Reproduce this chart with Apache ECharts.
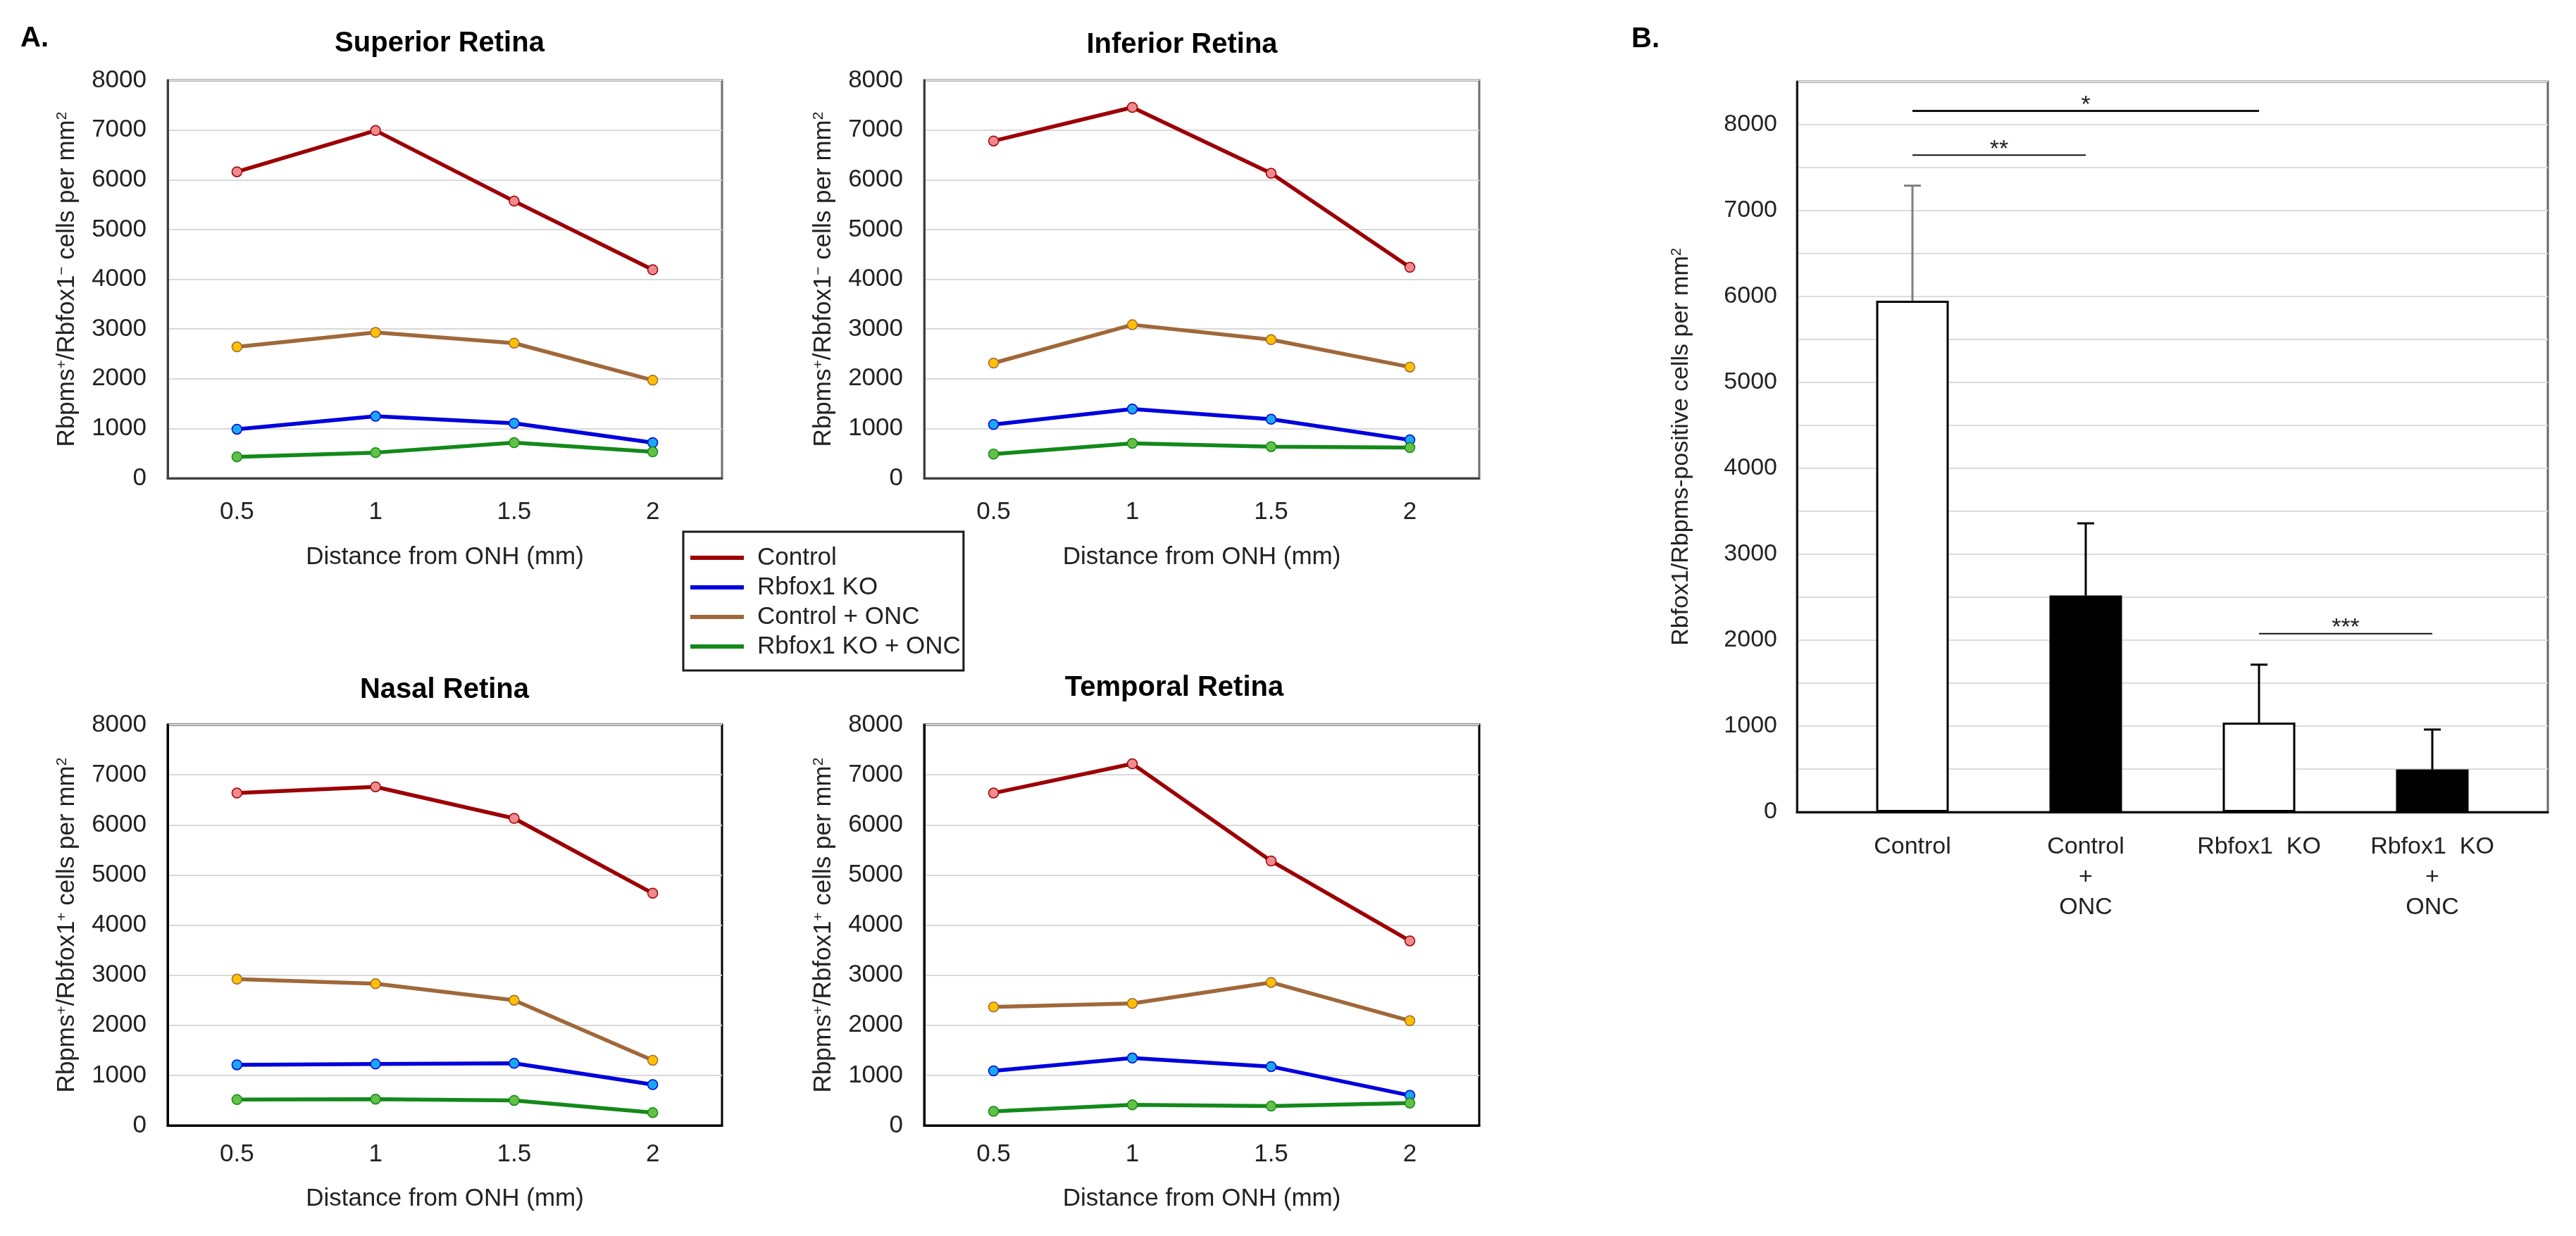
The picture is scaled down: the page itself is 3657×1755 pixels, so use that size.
<!DOCTYPE html>
<html><head><meta charset="utf-8">
<script src="https://cdn.jsdelivr.net/npm/echarts@6/dist/echarts.min.js"></script>
<style>html,body{margin:0;padding:0;background:#fff}#c{width:3657px;height:1755px}</style>
</head><body><div id="c"></div>
<script>
// ---- data ----
const distances = ['0.5', '1', '1.5', '2'];
const seriesNames = ['Control', 'Rbfox1 KO', 'Control + ONC', 'Rbfox1 KO + ONC'];

const superiorControl    = [6160, 6990, 5570, 4190];
const superiorKO         = [985, 1245, 1105, 715];
const superiorControlONC = [2640, 2930, 2715, 1970];
const superiorKOONC      = [430, 515, 715, 530];

const inferiorControl    = [6780, 7455, 6130, 4240];
const inferiorKO         = [1080, 1390, 1185, 770];
const inferiorControlONC = [2315, 3085, 2785, 2235];
const inferiorKOONC      = [485, 700, 635, 615];

const nasalControl       = [6635, 6760, 6130, 4635];
const nasalKO            = [1210, 1225, 1240, 815];
const nasalControlONC    = [2920, 2830, 2500, 1300];
const nasalKOONC         = [515, 525, 500, 255];

const temporalControl    = [6635, 7220, 5280, 3685];
const temporalKO         = [1090, 1345, 1175, 600];
const temporalControlONC = [2365, 2435, 2855, 2090];
const temporalKOONC      = [280, 410, 385, 445];

const panelTitles = ['Superior Retina', 'Inferior Retina', 'Nasal Retina', 'Temporal Retina'];
const yTickValues = [0, 1000, 2000, 3000, 4000, 5000, 6000, 7000, 8000];

const groupLabels = ['Control', 'Control\n+\nONC', 'Rbfox1  KO', 'Rbfox1  KO\n+\nONC'];
const groupMeans  = [5950, 2520, 1040, 495];
const groupUpper  = [7290, 3360, 1715, 960];

const sigFrom  = [0, 0, 2];
const sigTo    = [2, 1, 3];
const sigLevel = [8160, 7645, 2075];
const sigText  = ['*', '**', '***'];

// ---- styling / layout ----
const FONT = '"Liberation Sans", Arial, sans-serif';
const lineColors  = ['#9c0006', '#0000dc', '#a0683a', '#13891a'];
const pointColors = ['#f08a8c', '#1aa7ee', '#ffc000', '#62c145'];
const panelData = [
  [superiorControl, superiorKO, superiorControlONC, superiorKOONC],
  [inferiorControl, inferiorKO, inferiorControlONC, inferiorKOONC],
  [nasalControl, nasalKO, nasalControlONC, nasalKOONC],
  [temporalControl, temporalKO, temporalControlONC, temporalKOONC]
];
const panelGrids = [
  {left: 238, top: 114, width: 787, height: 565, border: '#6e6e6e', axis: '#404040', labelMargin: 31, nameGap: 95},
  {left: 1312, top: 114, width: 788, height: 565, border: '#6e6e6e', axis: '#404040', labelMargin: 31, nameGap: 95},
  {left: 238, top: 1029, width: 787, height: 569, border: '#000', axis: '#000', labelMargin: 24, nameGap: 87},
  {left: 1312, top: 1029, width: 788, height: 569, border: '#000', axis: '#000', labelMargin: 24, nameGap: 87}
];
const titlePos = [[624, 62], [1678, 64], [631, 980], [1667, 977]];
const yNames = [
  'Rbpms{sup|+}/Rbfox1{sup|\u2212} cells per mm{sup|2}',
  'Rbpms{sup|+}/Rbfox1{sup|\u2212} cells per mm{sup|2}',
  'Rbpms{sup|+}/Rbfox1{sup|+} cells per mm{sup|2}',
  'Rbpms{sup|+}/Rbfox1{sup|+} cells per mm{sup|2}'
];
const barFill = ['#ffffff', '#000000', '#ffffff', '#000000'];
const errColor = ['#7f7f7f', '#000000', '#000000', '#000000'];
const sigWidth = [3, 2, 2];

const grid = [], xAxis = [], yAxis = [], series = [];
const supRich = {sup: {fontSize: 21, fontFamily: FONT, color: '#222', verticalAlign: 'bottom', padding: [0, 0, 14, 0]}};
const plainNum = v => String(v);

panelGrids.forEach((g, i) => {
  grid.push({left: g.left, top: g.top, width: g.width, height: g.height, show: true,
    borderColor: g.border, borderWidth: 3, backgroundColor: '#fff'});
  xAxis.push({type: 'category', gridIndex: i, data: distances, boundaryGap: true,
    axisLine: {lineStyle: {color: g.axis, width: 3}}, axisTick: {show: false},
    axisLabel: {fontSize: 35, color: '#222', fontFamily: FONT, margin: g.labelMargin},
    name: 'Distance from ONH (mm)', nameLocation: 'middle', nameGap: g.nameGap,
    nameTextStyle: {fontSize: 35, color: '#222', fontFamily: FONT}});
  yAxis.push({type: 'value', gridIndex: i, min: yTickValues[0], max: yTickValues[yTickValues.length - 1], interval: 1000,
    axisLine: {show: true, lineStyle: {color: g.axis, width: 3}}, axisTick: {show: false},
    axisLabel: {fontSize: 35, color: '#222', fontFamily: FONT, margin: 30, formatter: plainNum},
    splitLine: {lineStyle: {color: '#d9d9d9', width: 2}},
    name: yNames[i], nameLocation: 'middle', nameGap: 125, nameRotate: 90,
    nameTextStyle: {fontSize: 35, color: '#222', fontFamily: FONT, rich: supRich}});
  panelData[i].forEach((vals, j) => {
    series.push({type: 'line', name: seriesNames[j], xAxisIndex: i, yAxisIndex: i, data: vals,
      symbol: 'circle', symbolSize: 14, z: 3 + (j === 0 ? 1 : 0),
      lineStyle: {color: lineColors[j], width: 5.5},
      itemStyle: {color: pointColors[j], borderColor: lineColors[j], borderWidth: 1.5}});
  });
});

// Panel B frame grid (index 4) and bar grid (index 5)
grid.push({left: 2551, top: 116, width: 1066, height: 1037, show: true, borderColor: '#666', borderWidth: 3, backgroundColor: '#fff'});
grid.push({left: 2592, top: 116, width: 984, height: 1037});
xAxis.push({type: 'value', gridIndex: 4, min: 0, max: 1, axisLine: {show: true, lineStyle: {color: '#000', width: 3}},
  axisTick: {show: false}, axisLabel: {show: false}, splitLine: {show: false}});
yAxis.push({type: 'value', gridIndex: 4, min: 0, max: 8500, interval: 500,
  axisLine: {show: true, lineStyle: {color: '#1a1a1a', width: 3}}, axisTick: {show: false},
  axisLabel: {fontSize: 34, color: '#222', fontFamily: FONT, margin: 28, formatter: v => (v % 1000 === 0 ? String(v) : '')},
  splitLine: {lineStyle: {color: '#dcdcdc', width: 2}},
  name: 'Rbfox1/Rbpms-positive cells per mm{sup|2}', nameLocation: 'middle', nameGap: 147, nameRotate: 90,
  nameTextStyle: {fontSize: 34, color: '#222', fontFamily: FONT, rich: {sup: {fontSize: 20, fontFamily: FONT, color: '#222', verticalAlign: 'bottom', padding: [0, 0, 14, 0]}}}});
xAxis.push({type: 'category', gridIndex: 5, data: groupLabels, axisLine: {show: false}, axisTick: {show: false},
  axisLabel: {fontSize: 34, color: '#222', fontFamily: FONT, margin: 28, lineHeight: 43}});
yAxis.push({type: 'value', gridIndex: 5, min: 0, max: 8500, show: false, splitLine: {show: false}});

series.push({type: 'bar', xAxisIndex: 5, yAxisIndex: 5, barWidth: 103, z: 3,
  data: groupMeans.map((m, i) => ({value: m, itemStyle: {color: barFill[i], borderColor: '#000', borderWidth: 3}}))});
series.push({type: 'custom', xAxisIndex: 5, yAxisIndex: 5, z: 4,
  data: groupMeans.map((m, i) => [i, m, groupUpper[i]]),
  renderItem: (params, api) => {
    const p0 = api.coord([api.value(0), api.value(1)]);
    const p1 = api.coord([api.value(0), api.value(2)]);
    const col = errColor[params.dataIndex];
    return {type: 'group', children: [
      {type: 'line', shape: {x1: p0[0], y1: p0[1], x2: p1[0], y2: p1[1]}, style: {stroke: col, lineWidth: 3}},
      {type: 'line', shape: {x1: p1[0] - 12, y1: p1[1], x2: p1[0] + 12, y2: p1[1]}, style: {stroke: col, lineWidth: 3}}
    ]};
  }});
series.push({type: 'custom', xAxisIndex: 5, yAxisIndex: 5, z: 5,
  data: sigFrom.map((f, i) => [f, sigTo[i], sigLevel[i]]),
  renderItem: (params, api) => {
    const a = api.coord([api.value(0), api.value(2)]);
    const b = api.coord([api.value(1), api.value(2)]);
    const k = params.dataIndex;
    return {type: 'group', children: [
      {type: 'line', shape: {x1: a[0], y1: a[1], x2: b[0], y2: b[1]}, style: {stroke: '#111', lineWidth: sigWidth[k]}},
      {type: 'text', style: {text: sigText[k], x: (a[0] + b[0]) / 2, y: a[1] - 8, align: 'center', verticalAlign: 'middle',
        fontSize: 34, fontFamily: FONT, fill: '#222'}}
    ]};
  }});

const graphic = titlePos.map((p, i) => ({type: 'text', x: p[0], y: p[1], z: 10,
  style: {text: panelTitles[i], align: 'center', verticalAlign: 'middle', fontSize: 40, fontWeight: 'bold', fontFamily: FONT, fill: '#000'}}));
graphic.push({type: 'text', x: 29, y: 55, style: {text: 'A.', align: 'left', verticalAlign: 'middle', fontSize: 40, fontWeight: 'bold', fontFamily: FONT, fill: '#000'}});
graphic.push({type: 'text', x: 2316, y: 56, style: {text: 'B.', align: 'left', verticalAlign: 'middle', fontSize: 40, fontWeight: 'bold', fontFamily: FONT, fill: '#000'}});

const chart = echarts.init(document.getElementById('c'));
chart.setOption({
  animation: false,
  backgroundColor: '#fff',
  textStyle: {fontFamily: FONT},
  grid, xAxis, yAxis, series, graphic,
  legend: {
    left: 970, top: 755, orient: 'vertical', selectedMode: false,
    backgroundColor: '#fff', borderColor: '#1a1a1a', borderWidth: 3,
    padding: [16, 4, 13, 10], itemGap: 0, itemWidth: 76, itemHeight: 6, icon: 'rect',
    textStyle: {fontSize: 35, color: '#222', fontFamily: FONT, lineHeight: 42, padding: [0, 0, 0, 14]},
    data: seriesNames.map((n, j) => ({name: n, itemStyle: {color: lineColors[j], borderWidth: 0}}))
  }
});
</script></body></html>
